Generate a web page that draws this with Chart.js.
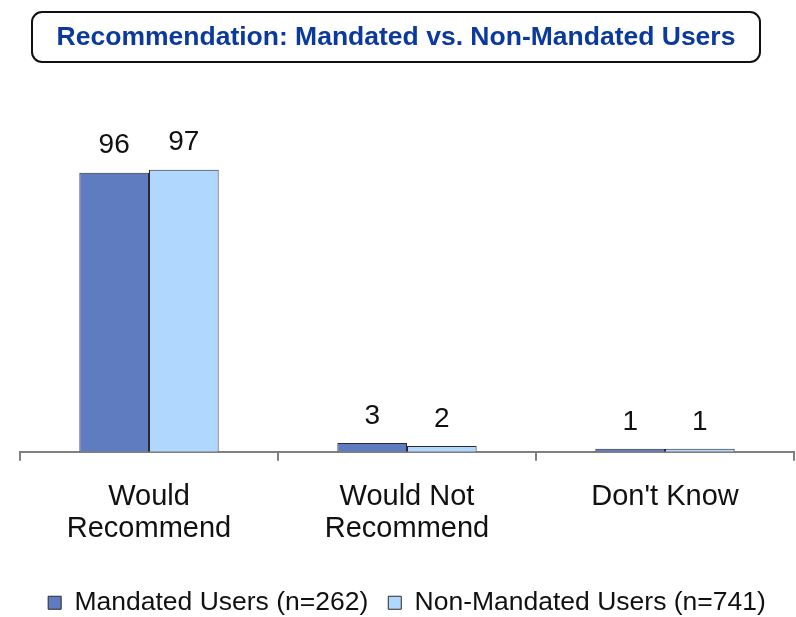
<!DOCTYPE html>
<html>
<head>
<meta charset="utf-8">
<script src="https://cdn.jsdelivr.net/npm/chart.js@4.4.1/dist/chart.umd.min.js"></script>
<style>
    html, body { margin: 0; padding: 0; background: #fff; }
    #wrap { width: 796px; height: 617px; position: relative; }
</style>
</head>
<body>
<div id="wrap"><canvas id="recChart" width="796" height="617"></canvas></div>
<script>
const categories = [['Would', 'Recommend'], ['Would Not', 'Recommend'], "Don't Know"];
const mandatedValues = [96, 3, 1];
const nonMandatedValues = [97, 2, 1];
const seriesLabels = ['Mandated Users (n=262)', 'Non-Mandated Users (n=741)'];
const chartTitle = 'Recommendation: Mandated vs. Non-Mandated Users';

// title box drawn above the plot
const titleBox = {
    id: 'titleBox',
    afterDraw(chart) {
        const ctx = chart.ctx;
        const x = 32, y = 12, w = 728, h = 50, r = 10;
        ctx.save();
        ctx.beginPath();
        ctx.roundRect(x, y, w, h, r);
        ctx.lineWidth = 2;
        ctx.strokeStyle = '#111';
        ctx.stroke();
        ctx.fillStyle = '#0B3A9C';
        ctx.font = 'bold 26.5px "Liberation Sans", Arial, sans-serif';
        ctx.textAlign = 'center';
        ctx.textBaseline = 'middle';
        ctx.fillText(chartTitle, x + w / 2, y + h / 2 + 1);
        ctx.restore();
    }
};

// value labels above each bar
const valueLabels = {
    id: 'valueLabels',
    afterDatasetsDraw(chart) {
        const ctx = chart.ctx;
        ctx.save();
        ctx.fillStyle = '#111';
        ctx.font = '28px "Liberation Sans", Arial, sans-serif';
        ctx.textAlign = 'center';
        ctx.textBaseline = 'bottom';
        chart.data.datasets.forEach((ds, i) => {
            chart.getDatasetMeta(i).data.forEach((bar, j) => {
                ctx.fillText(ds.data[j], bar.x, bar.y - 13);
            });
        });
        ctx.restore();
    }
};

new Chart(document.getElementById('recChart').getContext('2d'), {
    type: 'bar',
    data: {
        labels: categories,
        datasets: [{
            label: seriesLabels[0],
            data: mandatedValues,
            backgroundColor: '#5E7CBF',
            borderColor: '#2a2a2a',
            borderWidth: 1
        }, {
            label: seriesLabels[1],
            data: nonMandatedValues,
            backgroundColor: '#B0D8FF',
            borderColor: '#2a2a2a',
            borderWidth: 1
        }]
    },
    options: {
        responsive: false,
        animation: false,
        layout: {
            padding: { top: 161, left: 20, right: 2, bottom: -9 }
        },
        datasets: {
            bar: { categoryPercentage: 0.54, barPercentage: 1.0 }
        },
        scales: {
            x: {
                afterFit(scale) {
                    scale.height += 5;
                },
                grid: {
                    display: true,
                    offset: true,
                    drawOnChartArea: false,
                    drawTicks: true,
                    tickLength: 9,
                    color: '#808080',
                    lineWidth: 2
                },
                border: { display: true, color: '#808080', width: 2 },
                ticks: {
                    color: '#111',
                    padding: 20,
                    maxRotation: 0,
                    font: { family: '"Liberation Sans", Arial, sans-serif', size: 29, lineHeight: 1.1 }
                }
            },
            y: {
                display: false,
                min: 0,
                max: 100
            }
        },
        plugins: {
            legend: {
                position: 'bottom',
                labels: {
                    color: '#111',
                    boxWidth: 13,
                    boxHeight: 13,
                    padding: 20,
                    font: { family: '"Liberation Sans", Arial, sans-serif', size: 26.5 }
                }
            },
            title: { display: false },
            tooltip: { enabled: false }
        }
    },
    plugins: [titleBox, valueLabels]
});
</script>
</body>
</html>
